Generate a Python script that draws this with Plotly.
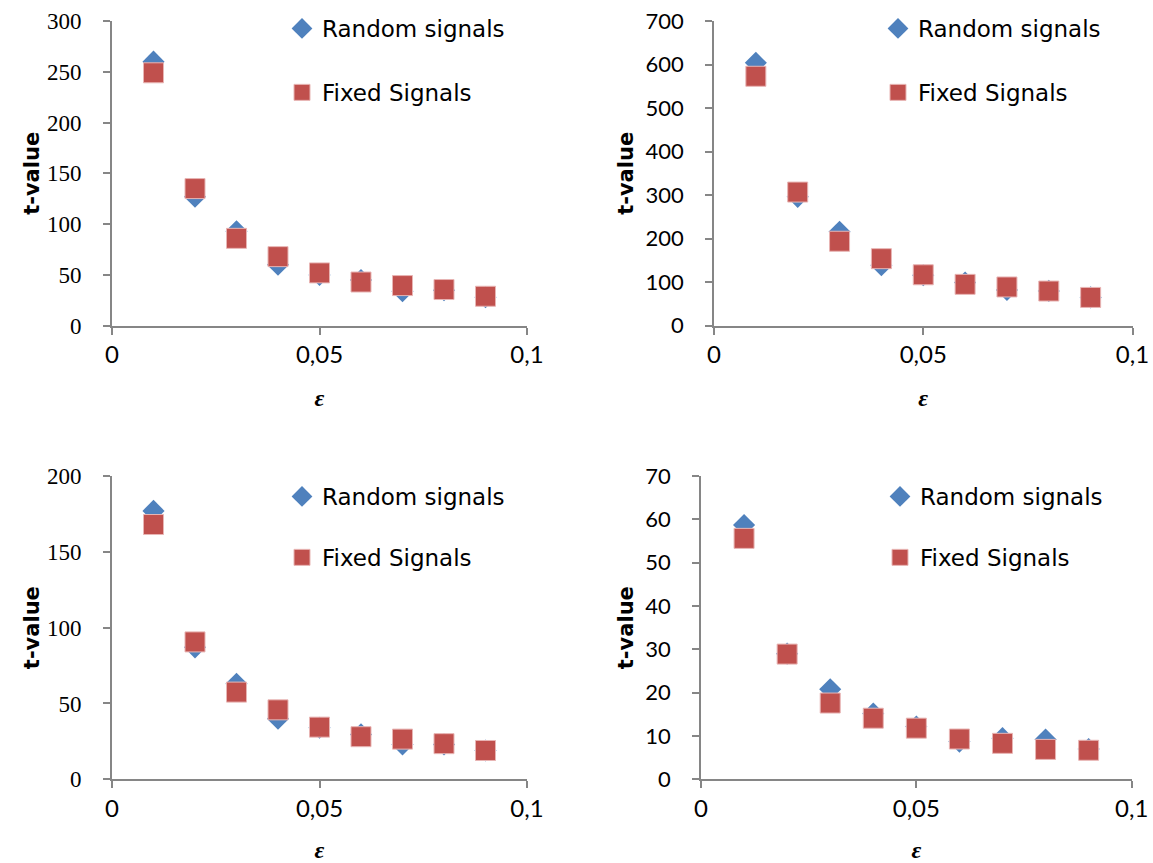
import plotly.graph_objects as go

eps = [0.01, 0.02, 0.03, 0.04, 0.05, 0.06, 0.07, 0.08, 0.09]

random_1 = [260, 127, 93, 60, 50, 45, 34, 35, 28]
fixed_1 = [249, 135, 86, 68, 52, 43, 39.5, 35.6, 29]

random_2 = [604, 296, 216, 139, 116, 99, 82, 80, 65]
fixed_2 = [573, 307, 194, 154, 117, 95, 89, 79.6, 65]

random_3 = [177, 87, 63, 40, 34, 29.6, 23, 23, 19]
fixed_3 = [168, 90.6, 57.5, 45.8, 34.4, 28.1, 26.5, 23.5, 19]

random_4 = [58.7, 29, 20.8, 15.2, 12.2, 8.7, 9.5, 9.2, 7]
fixed_4 = [55.6, 28.9, 17.6, 14.1, 11.8, 9.3, 8.3, 6.9, 6.7]

y_ranges = [[0, 300], [0, 700], [0, 200], [0, 70]]
y_dticks = [50, 100, 50, 10]

x_tickvals = [0, 0.05, 0.1]
x_ticktext = ["0", "0,05", "0,1"]

series_names = ["Random signals", "Fixed Signals"]

W, H = 1153, 863
BLUE = "#4F81BD"
RED = "#C0504D"
AXIS = "#868686"

# panel pixel boxes: (left, right, top, bottom)
boxes = [
    (112, 527, 21, 325.7),
    (714, 1132.5, 21, 325.7),
    (112, 527, 476, 779.3),
    (701, 1131.7, 476, 779.3),
]
legend_pos = [(282, 7), (878, 7), (282, 475), (880, 475)]
legend_gap = [31, 31, 28, 28]
serif_y = [True, False, True, False]
ytitle_standoff = [2, 6, 2, 6]

fig = go.Figure()
data = [(random_1, fixed_1), (random_2, fixed_2), (random_3, fixed_3), (random_4, fixed_4)]

for i, (rnd, fix) in enumerate(data):
    n = "" if i == 0 else str(i + 1)
    leg = "legend" + n
    fig.add_trace(go.Scatter(
        x=eps, y=rnd, mode="markers", name=series_names[0],
        marker=dict(symbol="diamond", size=17, color=BLUE, line=dict(width=0)),
        xaxis="x" + n, yaxis="y" + n, legend=leg, legendgroup=f"r{i}",
    ))
    fig.add_trace(go.Scatter(
        x=eps, y=fix, mode="markers", name=series_names[1],
        marker=dict(symbol="square", size=20, color=RED, line=dict(width=1, color="#E8B5B4")),
        xaxis="x" + n, yaxis="y" + n, legend=leg, legendgroup=f"f{i}",
    ))

layout = dict(
    width=W, height=H,
    margin=dict(l=0, r=0, t=0, b=0, autoexpand=False),
    paper_bgcolor="white", plot_bgcolor="white",
    showlegend=True,
)

for i, (l, r, t, b) in enumerate(boxes):
    n = "" if i == 0 else str(i + 1)
    xa = "xaxis" + n
    ya = "yaxis" + n
    yfont = (dict(family="Liberation Serif", size=23, color="black") if serif_y[i]
             else dict(family="Lato", size=22, color="black"))
    layout[xa] = dict(
        domain=[l / W, r / W], range=[0, 0.1], anchor="y" + n, automargin=False,
        tickvals=x_tickvals, ticktext=x_ticktext,
        showgrid=False, zeroline=False, showline=True, linecolor=AXIS, linewidth=1.8,
        ticks="outside", ticklen=7, tickcolor=AXIS, tickwidth=1.8, ticklabelstandoff=0,
        tickfont=dict(family="Lato", size=24, color="black"),
        title=dict(text="<b><i>ε</i></b>", font=dict(family="Liberation Serif", size=24, color="black"), standoff=22),
    )
    layout[ya] = dict(
        domain=[1 - b / H, 1 - t / H], range=y_ranges[i], anchor="x" + n, automargin=False,
        dtick=y_dticks[i], tick0=0,
        showgrid=False, zeroline=False, showline=True, linecolor=AXIS, linewidth=1.8,
        ticks="outside", ticklen=7, tickcolor=AXIS, tickwidth=1.8, ticklabelstandoff=17,
        tickfont=yfont,
        title=dict(text="<b>t-value</b>", font=dict(family="DejaVu Sans", size=21, color="black"),
                   standoff=ytitle_standoff[i]),
    )
    lx, ly = legend_pos[i]
    layout["legend" + n] = dict(
        x=lx / W, y=1 - ly / H, xanchor="left", yanchor="top",
        bgcolor="rgba(0,0,0,0)", font=dict(family="DejaVu Sans", size=23, color="black"),
        tracegroupgap=legend_gap[i], traceorder="grouped", itemwidth=30,
    )

fig.update_layout(**layout)
fig.write_html(
    "out.html",
    post_script="document.body.style.margin='0';document.body.style.overflow='hidden';",
)
